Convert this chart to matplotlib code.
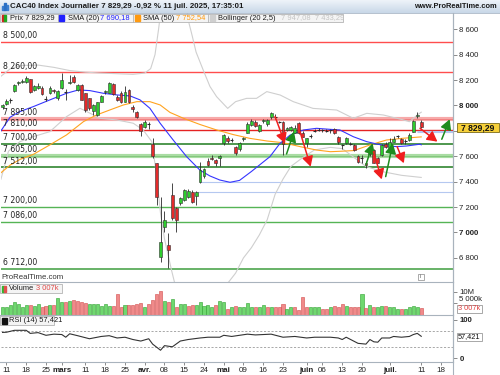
import numpy as np
import matplotlib
matplotlib.use('Agg')
import matplotlib.pyplot as plt
from matplotlib.patches import Rectangle
from matplotlib.colors import LinearSegmentedColormap
import matplotlib.transforms as mtrans

plt.rcParams['font.family'] = ['Liberation Sans', 'DejaVu Sans']

W, H = 500, 375

# ---------------- data ----------------
day_index = list(range(-1, 106))
opens = [7985, 8010, 8040, 8117, 8175, 8185, 8188, 8206, 8120, 8140, 8135, 8055, 8100, 8120, 8056,
         8135, 8110, 8180, 8227, 8122, 8161, 8096, 8056, 7960, 7925, 8030, 8103, 8100, 8166, 8069,
         8101, 8030, 8122, 7990, 7951, 7854, 7833, 7855, 7697, 7544, 6804, 7040, 6901, 7295, 7190,
         7229, 7255, 7276, 7321, 7287, 7400, 7444, 7565, 7590, 7570, 7585, 7702, 7740, 7732, 7670,
         7654, 7735, 7786, 7846, 7872, 7799, 7876, 7851, 7906, 7912, 7872, 7872, 7810, 7807, 7786,
         7865, 7786, 7707, 7758, 7800, 7805, 7800, 7805, 7800, 7812, 7755, 7695, 7707, 7700, 7689,
         7602, 7580, 7545, 7618, 7650, 7584, 7610, 7700, 7663, 7715, 7755, 7733, 7720, 7728, 7794,
         7920, 7873]
highs = [8012, 8048, 8060, 8170, 8195, 8205, 8232, 8212, 8165, 8175, 8150, 8072, 8152, 8132, 8125,
         8258, 8128, 8240, 8236, 8172, 8166, 8100, 8062, 8012, 8030, 8085, 8122, 8185, 8175, 8080,
         8112, 8150, 8130, 8000, 7960, 7862, 7882, 7870, 7741, 7548, 7282, 7172, 6993, 7387, 7200,
         7280, 7345, 7345, 7335, 7330, 7557, 7510, 7590, 7612, 7580, 7610, 7775, 7760, 7745, 7682,
         7712, 7752, 7870, 7892, 7882, 7856, 7895, 7892, 7952, 7930, 7880, 7878, 7832, 7840, 7845,
         7870, 7795, 7745, 7775, 7815, 7822, 7815, 7815, 7815, 7820, 7760, 7700, 7752, 7710, 7695,
         7610, 7610, 7560, 7660, 7655, 7595, 7700, 7710, 7740, 7760, 7770, 7740, 7735, 7780, 7885,
         7945, 7885]
lows = [7975, 8000, 8020, 8105, 8160, 8178, 8180, 8100, 8110, 8128, 8085, 8035, 8090, 8095, 8040,
        8130, 8043, 8170, 8180, 8115, 8040, 7950, 7968, 7925, 7918, 8025, 8090, 8095, 8085, 8035,
        8020, 8025, 8020, 7950, 7905, 7760, 7820, 7818, 7590, 7216, 6770, 7006, 6717, 7098, 7006,
        7220, 7250, 7268, 7230, 7216, 7390, 7430, 7520, 7570, 7523, 7523, 7689, 7705, 7715, 7610,
        7640, 7722, 7780, 7840, 7830, 7790, 7860, 7840, 7895, 7895, 7860, 7610, 7800, 7795, 7780,
        7775, 7750, 7670, 7745, 7790, 7795, 7790, 7790, 7785, 7775, 7700, 7660, 7700, 7685, 7640,
        7550, 7545, 7510, 7600, 7545, 7545, 7605, 7665, 7655, 7710, 7740, 7700, 7700, 7720, 7790,
        7905, 7820]
closes = [8004, 8035, 8045, 8161, 8182, 8192, 8220, 8109, 8150, 8152, 8090, 8050, 8140, 8112, 8117,
          8200, 8105, 8188, 8187, 8161, 8043, 7964, 7977, 8000, 8025, 8075, 8110, 8174, 8090, 8043,
          8030, 8109, 8025, 7970, 7912, 7799, 7872, 7852, 7602, 7277, 6927, 7098, 6862, 7111, 7098,
          7269, 7334, 7329, 7242, 7321, 7492, 7497, 7531, 7582, 7545, 7600, 7767, 7718, 7728, 7623,
          7702, 7742, 7854, 7878, 7838, 7846, 7888, 7885, 7943, 7910, 7868, 7695, 7822, 7833, 7825,
          7780, 7754, 7741, 7762, 7802, 7808, 7803, 7800, 7805, 7781, 7715, 7690, 7747, 7697, 7650,
          7558, 7584, 7530, 7655, 7550, 7550, 7689, 7676, 7715, 7733, 7758, 7707, 7723, 7768, 7880,
          7928, 7829.29]
volumes_m = [3.3, 3.3, 4.3, 5.4, 4.7, 3.3, 4.3, 4.3, 3.9, 4.7, 3.3, 4.0, 4.3, 4.3, 7.2, 5.4, 5.7,
             6.1, 6.4, 6.1, 5.7, 5.3, 4.7, 4.7, 4.7, 3.9, 4.7, 4.0, 3.9, 9.0, 3.6, 4.3, 4.3, 4.3,
             4.7, 5.0, 3.6, 4.7, 6.4, 9.0, 10.4, 6.1, 5.7, 6.7, 3.6, 4.7, 4.7, 3.9, 4.3, 4.3, 5.4,
             4.0, 4.3, 3.6, 4.3, 6.1, 5.4, 2.4, 3.6, 3.9, 3.3, 3.6, 5.0,
             3.3, 3.6, 3.3, 4.3, 3.3, 3.3, 3.3, 3.3, 4.7, 2.4, 3.3, 3.6, 2.1, 7.6, 3.3, 3.3, 3.3,
             3.3, 2.4, 2.4, 3.3, 3.9, 3.3, 4.7, 3.9, 3.3, 3.3, 3.3, 9.0, 2.9, 4.3, 3.3, 3.3, 3.9,
             3.9, 3.3, 3.3, 2.4, 2.4, 2.4, 3.3, 3.9, 3.3, 2.9]

sma20_idx = [-1.4, 0.9, 3.4, 6.8, 11, 15.2, 18.2, 21.1, 24.5, 27.9, 31.3, 33.8, 36.3, 38.9, 42.2,
             45.6, 49, 51.5, 54, 56.6, 59, 62, 66.7, 69.2, 71.8, 75.2, 78.5, 81.9, 84.4, 87.8,
             91.2, 93.7, 96.2, 98.8, 101.3, 104.7, 105]
sma20_val = [7800, 7907, 7952, 7991, 8044, 8096, 8122, 8117, 8096, 8083, 8075, 8044, 7978, 7860,
             7728, 7597, 7490, 7445, 7413, 7395, 7410, 7480, 7597, 7700, 7767, 7807, 7820, 7812,
             7807, 7754, 7715, 7697, 7681, 7676, 7681, 7695, 7690.18]
sma50_idx = [-1.4, 0.9, 3.4, 6.8, 11, 15.2, 19.5, 22.8, 26.2, 29.6, 33, 36.3, 38.9, 41.4, 44.8,
             49, 53.2, 57.5, 61.6, 66, 70, 74.3, 78.5, 82, 85, 88, 92, 96.2, 100.5, 105]
sma50_val = [7470, 7530, 7575, 7615, 7690, 7768, 7873, 7925, 7965, 8004, 8030, 8030, 8004, 7945,
             7899, 7850, 7807, 7770, 7741, 7720, 7707, 7676, 7649, 7636, 7640, 7645, 7689, 7728,
             7742, 7752.54]
boll_up_idx = [-1.4, 1, 4, 8, 12, 16, 20, 24, 28, 32, 35, 36.5, 37.6, 38.5, 39.3, 45.5, 46, 47,
               48, 49.8, 51.5, 53.2, 56, 58, 60.8, 63.3, 65.9, 69.3, 72.6, 77.6, 83.6, 87.8,
               91.2, 95.4, 100.5, 102, 104, 105]
boll_up_val = [8230, 8290, 8315, 8318, 8300, 8275, 8262, 8255, 8250, 8245, 8255, 8290, 8400, 8600,
               8800, 8800, 8673, 8550, 8420, 8279, 8150, 8069, 7977, 8030, 8056, 8056, 8109, 8082,
               8030, 7977, 7964, 7899, 7938, 7925, 7886, 7872, 7925, 7947.08]
boll_lo_idx = [-1.4, 0.5, 3.4, 6.8, 11, 15.2, 18.6, 20.3, 23.7, 27.9, 32.1, 34.6, 36.8, 38, 39,
               40, 41.8, 43, 50, 56, 58, 60, 62, 64, 66, 68, 70, 72, 75, 78, 82, 85, 88, 91, 95,
               100, 105]
boll_lo_val = [7420, 7640, 7715, 7755, 7794, 7912, 7978, 7952, 7899, 7886, 7860, 7807, 7715, 7450,
               7150, 6950, 6700, 6550, 6450, 6600, 6680, 6800, 6880, 6980, 7100, 7300, 7420, 7520,
               7590, 7650, 7670, 7660, 7590, 7520, 7480, 7450, 7433.29]

rsi_idx = [-1, 0, 2, 5, 6, 8, 10, 12, 14, 15, 16, 18, 21, 24, 26, 28, 30, 32, 34, 36, 37, 39, 40,
           42, 44, 46, 49, 51, 54, 55, 57, 61, 62, 63, 67, 70, 73, 76, 78, 82, 84, 85, 86, 89,
           91, 92, 93, 94, 95, 97, 98, 100, 102, 103, 104, 105]
rsi_val = [67.5, 68, 73, 73, 65, 67, 60, 63, 62, 55, 64, 59, 51, 57, 59, 53, 55, 49, 45, 51, 37,
           21, 33, 30, 45, 49, 53, 55, 55, 60, 57, 63, 62, 61, 63, 55, 57, 53, 55, 55, 53, 49, 55,
           39, 37, 49, 43, 42, 53, 53, 57, 55, 57, 62, 65, 57.421]

levels = [8500, 8260, 7895, 7810, 7700, 7605, 7512, 7200, 7086, 6712]
level_kind = ['res', 'res', 'res_band', 'res_dark', 'sup_dark', 'sup_band', 'sup_dark', 'sup',
              'sup', 'sup_mid']
blue_levels = [7400, 7321]
blue_level_start = [49, 48]

arrows = [  # (from_idx, from_price, to_idx, to_price, colour kind)
    (68, 7912, 70.5, 7702, 'r'), (70.9, 7618, 72.8, 7794, 'g'), (74.3, 7794, 77, 7518, 'r'),
    (91.0, 7531, 92.7, 7702, 'g'), (92.9, 7636, 95, 7418, 'r'), (96, 7440, 97.8, 7702, 'g'),
    (98.9, 7676, 100.6, 7545, 'r'), (104.7, 7820, 109.1, 7715, 'r'), (110.2, 7734, 112.2, 7891, 'g')]

xtick_idx = [0, 5, 10, 14, 20, 25, 30, 35, 40, 45, 50, 55, 60, 65, 70, 76, 80, 85, 90, 97, 105, 110]
xtick_lab = ['11', '18', '25', 'mars', '11', '18', '25', 'avr.', '08', '15', '24', 'mai', '09',
             '16', '23', 'juin', '06', '13', '20', 'juil.', '11', '18']
month_labels = {'mars', 'avr.', 'mai', 'juin', 'juil.'}

# ---------------- figure ----------------
fig = plt.figure(figsize=(W / 100, H / 100), dpi=100)
fig.patch.set_facecolor('white')


def px_axes(x0, y0, x1, y1, **kw):
    return fig.add_axes([x0 / W, 1 - y1 / H, (x1 - x0) / W, (y1 - y0) / H], **kw)


XL = (-1.39, 113.04)
AXC = '#a9b3bd'

ax = px_axes(1, 13, 453, 282)
axv = px_axes(1, 282, 453, 315)
axr = px_axes(1, 315, 453, 362)
for a in (ax, axv, axr):
    a.set_xlim(*XL)
    for s in a.spines.values():
        s.set_visible(False)
    a.spines['right'].set_visible(True)
    a.spines['right'].set_color(AXC)
    a.spines['right'].set_linewidth(0.8)
    a.yaxis.tick_right()
    a.tick_params(axis='y', direction='out', length=3, width=0.6, color='#777',
                  labelsize=5.6, pad=1.5, labelcolor='#222')

ax.set_ylim(6610, 8728)
ax.set_xticks([])
pt = list(range(6800, 8601, 200))
ax.set_yticks(pt)
ax.set_yticklabels(['' if v == 7800 else f"{v:,}".replace(',', ' ') for v in pt])
for t, v in zip(ax.get_yticklabels(), pt):
    if v % 1000 == 0:
        t.set_fontweight('bold')

# horizontal levels
style = {
    'res': dict(color='#ff4d4d', lw=1.0),
    'res_band': dict(color='#f7aaaa', lw=3.0),
    'res_dark': dict(color='#e52222', lw=1.0),
    'sup_dark': dict(color='#1e7a1e', lw=1.1),
    'sup_band': dict(color='#a9dca3', lw=3.0),
    'sup': dict(color='#55b455', lw=1.0),
    'sup_mid': dict(color='#3e9e3e', lw=1.1),
}
tr = mtrans.blended_transform_factory(ax.transAxes, ax.transData)
for v, k in zip(levels, level_kind):
    ax.axhline(v, zorder=1, **style[k])
    if k == 'res_band':
        ax.axhline(v, color='#f07a7a', lw=0.6, zorder=1)
    if k == 'sup_band':
        ax.axhline(v, color='#7cc476', lw=0.6, zorder=1)
    ax.text(0.004, v + 14, f"{v:,}".replace(',', ' ') + ',00', transform=tr, fontsize=5.6,
            family='DejaVu Sans', color='#222', va='bottom', ha='left', zorder=6)
for v, s0 in zip(blue_levels, blue_level_start):
    ax.hlines(v, s0, XL[1], color='#b5c8f0', lw=0.8, zorder=1)
ax.hlines([7802, 7788], 104, XL[1], color='#b5c8f0', lw=0.8, zorder=1)

# indicators
ax.plot(boll_up_idx, boll_up_val, color='#cfcfcf', lw=0.8, zorder=2)
ax.plot(boll_lo_idx, boll_lo_val, color='#cfcfcf', lw=0.8, zorder=2)
ax.plot(sma50_idx, sma50_val, color='#ffa31f', lw=0.8, zorder=3)
ax.plot(sma20_idx, sma20_val, color='#3535ff', lw=0.8, zorder=3)

# candles
for i, o, h, l, c in zip(day_index, opens, highs, lows, closes):
    ax.vlines(i, l, h, color='#2a2a2a', lw=0.6, zorder=4)
    up = c >= o
    fc = '#2ecc2e' if up else '#e42b2b'
    b0 = min(o, c)
    bh = max(abs(c - o), 4)
    if abs(c - o) < 6:
        ax.hlines(c, i - 0.38, i + 0.38, color='#2a2a2a', lw=0.8, zorder=5)
    else:
        ax.add_patch(Rectangle((i - 0.36, b0), 0.72, bh, facecolor=fc, edgecolor='#303030',
                               lw=0.4, zorder=5))

# arrows
acol = {'r': '#f01e1e', 'g': '#1e8c1e'}
for x0, y0, x1, y1, k in arrows:
    ax.annotate('', xy=(x1, y1), xytext=(x0, y0),
                arrowprops=dict(arrowstyle='-|>,head_length=0.55,head_width=0.3',
                                color=acol[k], lw=1.1, shrinkA=0, shrinkB=0,
                                mutation_scale=11), zorder=7)

# volume
axv.set_ylim(0, 14.16)
axv.set_xticks([])
axv.set_yticks([5, 10])
axv.set_yticklabels(['5 000k', '10M'])
axv.get_yticklabels()[0].set_va('bottom')
prev = None
for i, v, c in zip(day_index, volumes_m, closes):
    up = True if prev is None else c >= prev
    prev = c
    axv.bar(i, v, width=0.78, color='#6fd86f' if up else '#f08a8a',
            edgecolor='#2fa02f' if up else '#d24a4a', lw=0.4, zorder=3)

# RSI
axr.set_ylim(-9.7, 113)
axr.set_yticks([0, 100])
axr.set_yticklabels(['0', '100'], fontweight='bold')
for lv in (70, 30):
    axr.axhline(lv, color='#9a9a9a', lw=0.6, ls=(0, (2.5, 2)), zorder=1)
axr.plot(rsi_idx, rsi_val, color='#333333', lw=0.8, zorder=3)
axr.set_xticks(xtick_idx)
axr.set_xticklabels(xtick_lab)
axr.tick_params(axis='x', direction='out', length=2, width=0.6, color='#777',
                labelsize=5.8, pad=1.6, labelcolor='#222')
for t in axr.get_xticklabels():
    if t.get_text() in month_labels:
        t.set_fontweight('bold')

# ---------------- overlay (frame, header, legends) ----------------
ov = fig.add_axes([0, 0, 1, 1], zorder=20)
ov.set_xlim(0, W)
ov.set_ylim(H, 0)
ov.axis('off')
ov.patch.set_alpha(0)

grad = np.linspace(0, 1, 20).reshape(-1, 1)
cm = LinearSegmentedColormap.from_list('hdr', ['#eef3f9', '#c9d8e8'])
ov.imshow(grad, extent=[0, W, 13, 0], aspect='auto', cmap=cm, zorder=1)
ov.plot([0, W], [13, 13], color='#a9b7c6', lw=0.6, zorder=2)
for k, (hh, col) in enumerate([(4, '#3b7fd0'), (7, '#2a6fc4'), (5, '#3b7fd0')]):
    ov.add_patch(Rectangle((2 + k * 2.3, 10 - hh), 1.6, hh, color=col, zorder=3))
ov.text(10.5, 6.6, 'CAC40 Index Journalier 7 829,29 -0,92 % 11 juil. 2025, 17:35:01',
        fontsize=5.7, fontweight='bold', color='#1a1a1a', va='center', ha='left', zorder=3)
ov.text(497, 6.6, 'www.ProRealTime.com', fontsize=5.4, fontweight='bold', color='#1a1a1a',
        va='center', ha='right', zorder=3)

# legend row
ov.add_patch(Rectangle((0, 13.5), 343, 8.8, facecolor='#f4f4f4', edgecolor='#b4b4b4',
                       lw=0.6, zorder=2))
for xs in (57.5, 132.8, 207.8):
    ov.plot([xs, xs], [13.5, 22.3], color='#b4b4b4', lw=0.6, zorder=3)
ov.add_patch(Rectangle((1.5, 14.8), 2.3, 6.2, color='#d42020', zorder=3))
ov.add_patch(Rectangle((3.8, 14.8), 2.3, 6.2, color='#20a820', zorder=3))
LF = 5.4
ov.text(9.5, 18, 'Prix 7 829,29', fontsize=LF, color='#1a1a1a', va='center', zorder=3)
ov.add_patch(Rectangle((59.3, 15), 5, 5.8, color='#2020ff', zorder=3))
ov.text(67.5, 18, 'SMA (20)', fontsize=LF, color='#1a1a1a', va='center', zorder=3)
ov.text(100.5, 18, '7 690,18', fontsize=LF, color='#2020ff', va='center', zorder=3)
ov.add_patch(Rectangle((135, 15), 5, 5.8, color='#ff9a10', zorder=3))
ov.text(143, 18, 'SMA (50)', fontsize=LF, color='#1a1a1a', va='center', zorder=3)
ov.text(176, 18, '7 752,54', fontsize=LF, color='#ff9a10', va='center', zorder=3)
ov.add_patch(Rectangle((210, 15), 5, 5.8, color='#cfcfcf', zorder=3))
ov.text(218, 18, 'Bollinger (20 2,5)', fontsize=LF, color='#1a1a1a', va='center', zorder=3)
ov.text(281, 18, '7 947,08  7 433,29', fontsize=LF, color='#c4c4c4', va='center', zorder=3)

# panel separators / right frame
for yy in (282, 315, 362):
    ov.plot([0, 453], [yy, yy], color=AXC, lw=0.8, zorder=2)
ov.plot([453, 453], [13, 375], color=AXC, lw=0.8, zorder=2)
ov.text(1, 277.3, 'ProRealTime.com', fontsize=5.6, color='#333', va='center', zorder=3)
ov.add_patch(Rectangle((417.5, 273.5), 6, 6, facecolor='white', edgecolor='#888', lw=0.5,
                       zorder=3))
ov.text(420.5, 276.6, 'i', fontsize=4, color='#555', ha='center', va='center', zorder=4)

# volume and RSI legends
ov.add_patch(Rectangle((0, 284), 61.5, 9, facecolor='#f4f4f4', edgecolor='#b4b4b4', lw=0.6,
                       zorder=3))
ov.add_patch(Rectangle((1.5, 285.5), 2.2, 6, color='#30b830', zorder=4))
ov.add_patch(Rectangle((3.7, 285.5), 2.2, 6, color='#e05050', zorder=4))
ov.text(9, 288.6, 'Volume', fontsize=LF, color='#1a1a1a', va='center', zorder=4)
ov.text(36.5, 288.6, '3 007k', fontsize=LF, color='#e04848', va='center', zorder=4)
ov.add_patch(Rectangle((0, 316.3), 54, 9, facecolor='#f4f4f4', edgecolor='#b4b4b4', lw=0.6,
                       zorder=3))
ov.add_patch(Rectangle((1.5, 317.8), 5, 6, color='#111', zorder=4))
ov.text(9, 321, 'RSI (14) 57,421', fontsize=LF, color='#1a1a1a', va='center', zorder=4)

# right value boxes
ov.add_patch(Rectangle((456.5, 122.6), 42.8, 9.6, facecolor='#f6d03a', edgecolor='#7a6a1a',
                       lw=0.6, zorder=5))
ov.text(477.9, 127.5, '7 829,29', fontsize=6.2, fontweight='bold', color='#111',
        ha='center', va='center', zorder=6)
ov.add_patch(Rectangle((456.5, 304.5), 25.5, 8.4, facecolor='white', edgecolor='#9a9a9a',
                       lw=0.6, zorder=5))
ov.text(469.2, 308.7, '3 007k', fontsize=5.3, color='#e04040', ha='center', va='center',
        zorder=6)
ov.add_patch(Rectangle((456.5, 332.5), 25.5, 8.6, facecolor='white', edgecolor='#9a9a9a',
                       lw=0.6, zorder=5))
ov.text(469.2, 336.9, '57,421', fontsize=5.3, color='#111', ha='center', va='center',
        zorder=6)

fig.savefig('out.png', dpi=100, facecolor='white')
